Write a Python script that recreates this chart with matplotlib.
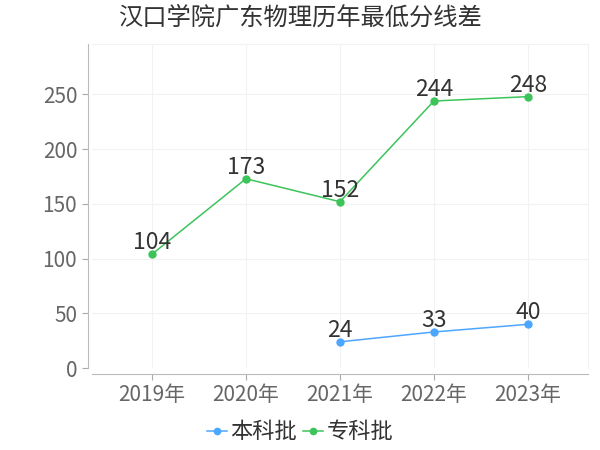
import matplotlib
matplotlib.use('Agg')
import matplotlib.pyplot as plt

plt.rcParams['font.family'] = ['Noto Sans CJK SC', 'DejaVu Sans']

# 数据
years = ["2019年", "2020年", "2021年", "2022年", "2023年"]
benke = [None, None, 24, 33, 40]
zhuanke = [104, 173, 152, 244, 248]
yticks = [0, 50, 100, 150, 200, 250]

BLUE = "#4da6ff"
GREEN = "#3cc45a"

fig = plt.figure(figsize=(6, 4.5), dpi=100)
ax = fig.add_axes([0.153, 0.182, 0.827, 0.72])

x = list(range(len(years)))

def plot_series(vals, color, label):
    xs = [i for i, v in zip(x, vals) if v is not None]
    ys = [v for v in vals if v is not None]
    ax.plot(xs, ys, color=color, linewidth=1.1, marker='o', markersize=5,
            label=label, zorder=3)
    for xi, yi in zip(xs, ys):
        ax.annotate(str(yi), (xi, yi), xytext=(0, 0), textcoords='offset points',
                    ha='center', va='bottom', fontsize=16.5, color='#333333', zorder=4)

plot_series(benke, BLUE, "本科批")
plot_series(zhuanke, GREEN, "专科批")

ax.set_xlim(-0.64, 4.64)
ax.set_ylim(0, 296)
ax.set_xticks(x)
ax.set_xticklabels(years)
ax.set_yticks(yticks)
ax.tick_params(axis='both', labelsize=15, colors='#aaaaaa', labelcolor='#666666',
               length=4, width=0.8)
ax.grid(True, color='#f2f2f2', linewidth=0.8)
ax.set_axisbelow(True)

for s in ['top', 'right']:
    ax.spines[s].set_visible(False)
ax.spines['left'].set_position(('outward', 3))
ax.spines['bottom'].set_position(('outward', 4))
ax.spines['left'].set_color('#bbbbbb')
ax.spines['bottom'].set_color('#bbbbbb')

# 右/上边框的浅色网格框
ax.plot([1, 1], [0, 1], transform=ax.transAxes, color='#f2f2f2', linewidth=0.8, clip_on=False)
ax.plot([0, 1], [1, 1], transform=ax.transAxes, color='#f2f2f2', linewidth=0.8, clip_on=False)

fig.text(0.502, 0.96, "汉口学院广东物理历年最低分线差", ha='center', va='center',
         fontsize=17.5, color='#333333')

fig.legend(loc='center', bbox_to_anchor=(0.5, 0.04), ncol=2, frameon=False,
           fontsize=16, handlelength=0.9, handletextpad=0.15, columnspacing=0.3,
           labelcolor='#333333', markerscale=0.9)

plt.savefig("out.png", dpi=100)
plt.close()
